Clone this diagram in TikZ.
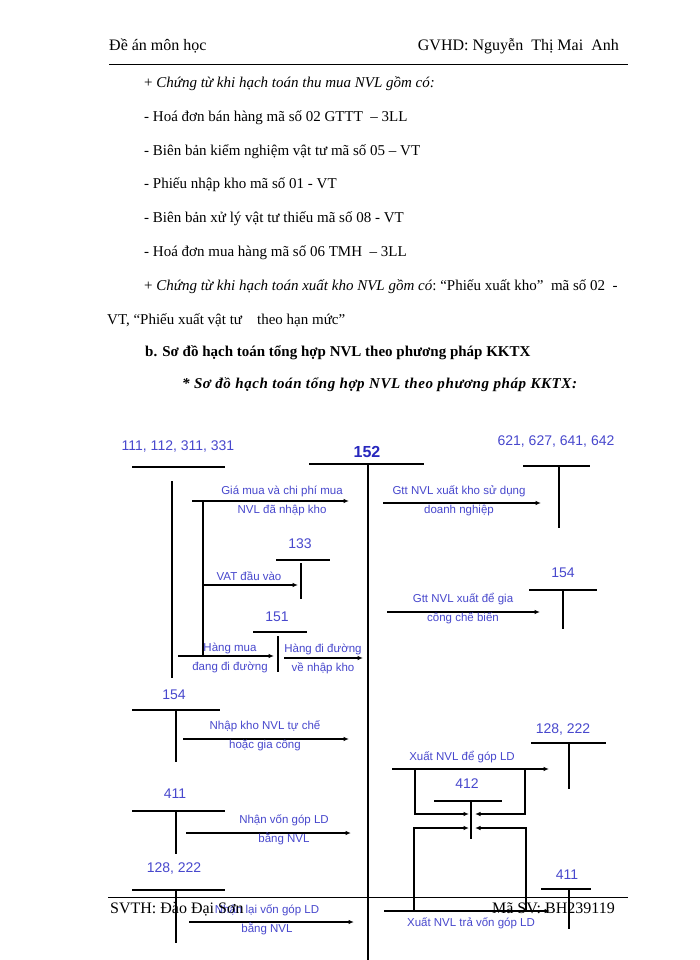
\documentclass[tikz,border=0pt]{standalone}
\usepackage{fontspec}
\setmainfont{Liberation Serif}
\newfontfamily\arialfont{Liberation Sans}
\usetikzlibrary{arrows.meta}
\definecolor{acctblue}{RGB}{72,72,205}
\definecolor{numblue}{RGB}{40,40,190}
\tikzset{%
    tbar/.style={line width=2.6pt},
    flow/.style={line width=1.5pt, -{Latex[length=5.5pt, width=4.5pt]}},
    link/.style={line width=1.5pt},
    acct/.style={text=acctblue, inner sep=0pt,
        font=\arialfont\fontsize{14}{16}\selectfont},
    lbl/.style={text=acctblue, inner sep=0pt, align=center,
        font=\arialfont\fontsize{11.5}{19}\selectfont},
    body/.style={anchor=base west, inner sep=0pt,
        font=\fontsize{15}{18}\selectfont},
    head/.style={inner sep=0pt, font=\fontsize{16}{19}\selectfont}
}
\begin{document}
\begin{tikzpicture}[x=1pt, y=-1pt]

    \useasboundingbox (0, 0) rectangle (700, 960);
    \fill[white] (0, 0) rectangle (700, 960);

    % page header
    \node[head, anchor=base west] (hleft) at (109, 51) {Đề án môn học};
    \node[head, anchor=base east] (hright) at (619, 51)
        {GVHD: Nguyễn\ \ Thị\ Mai\ \ Anh};
    \draw[line width=1.5pt] (109, 64.5) -- (628, 64.5);

    % text above the diagram
    \node[body] (t0) at (144, 87.3) {+ \textit{Chứng từ khi hạch toán thu mua NVL gồm có:}};
    \foreach \txt [count=\i] in {%
        {- Hoá đơn bán hàng mã số 02 GTTT\ \ – 3LL},
        {- Biên bản kiểm nghiệm vật tư mã số 05 – VT},
        {- Phiếu nhập\ kho mã số 01 - VT},
        {- Biên bản xử lý vật\ tư thiếu mã số 08 - VT},
        {- Hoá đơn mua hàng mã số 06 TMH\ \ – 3LL}}{%
        \node[body] (t\i) at (144, 87.3+33.9*\i) {\txt};
    };
    \node[body] (t6) at (144, 290.7) {+ \textit{Chứng từ khi hạch toán xuất kho NVL gồm có}:\
        “Phiếu xuất kho”\ \ mã số 02\ \ -};
    \node[body] (t7) at (107, 324) {VT,\ “Phiếu xuất vật\ tư\ \ \ \ theo hạn mức"};
    \node[body, font=\fontsize{15}{18}\selectfont\bfseries] (t8) at (145, 356)
        {b. Sơ đồ hạch toán tổng hợp NVL\ theo phương\ pháp\ KKTX};
    \node[body, font=\fontsize{15}{18}\selectfont\bfseries\itshape\addfontfeature{LetterSpace=4}]
        (t9) at (182, 388.3)
        {* Sơ đồ hạch toán tổng hợp NVL theo phương pháp KKTX:};

    % accounts on the left
    \node[acct] (a111) at (178, 447) {111, 112, 311, 331};
    \draw[tbar] (132, 467) -- (225, 467);
    \draw[tbar] (172, 481) -- (172, 678);

    \node[acct] (a133) at (300, 544) {133};
    \draw[tbar] (276, 560) -- (330, 560);
    \draw[tbar] (301, 563) -- (301, 599);

    \node[acct] (a151) at (277, 617) {151};
    \draw[tbar] (253, 632) -- (307, 632);
    \draw[tbar] (278, 636) -- (278, 672);

    \node[acct] (a154l) at (174, 695) {154};
    \draw[tbar] (132, 710) -- (220, 710);
    \draw[tbar] (176, 710) -- (176, 762);

    \node[acct] (a411l) at (175, 794) {411};
    \draw[tbar] (132, 811) -- (225, 811);
    \draw[tbar] (176, 811) -- (176, 854);

    \node[acct] (a128l) at (174, 868) {128, 222};
    \draw[tbar] (132, 890) -- (225, 890);
    \draw[tbar] (176, 890) -- (176, 943);

    % account 152
    \node[acct, text=numblue, font=\arialfont\bfseries\fontsize{16}{18}\selectfont]
        (a152) at (367, 452) {152};
    \draw[tbar] (309, 464) -- (424, 464);
    \draw[tbar] (368, 464) -- (368, 960);

    % accounts on the right
    \node[acct] (a621) at (556, 442) {621, 627, 641, 642};
    \draw[tbar] (523, 466) -- (590, 466);
    \draw[tbar] (559, 466) -- (559, 528);

    \node[acct] (a154r) at (563, 573) {154};
    \draw[tbar] (529, 590) -- (597, 590);
    \draw[tbar] (563, 590) -- (563, 629);

    \node[acct] (a128r) at (563, 729) {128, 222};
    \draw[tbar] (531, 743) -- (606, 743);
    \draw[tbar] (569, 743) -- (569, 789);

    \node[acct] (a412) at (467, 784) {412};
    \draw[tbar] (434, 801) -- (502, 801);
    \draw[tbar] (471, 802) -- (471, 839);

    \node[acct] (a411r) at (567, 875) {411};
    \draw[tbar] (541, 889) -- (591, 889);
    \draw[tbar] (569, 889) -- (569, 929);

    % end points of the flows
    \coordinate (buytop) at (203, 501);
    \coordinate (buybot) at (203, 656);
    \coordinate (in152a) at (349, 501);
    \coordinate (vat) at (204, 585);
    \coordinate (in133) at (298, 585);
    \coordinate (road) at (178, 656);
    \coordinate (in151) at (274, 656);
    \coordinate (out151) at (284, 658);
    \coordinate (in152b) at (363, 658);
    \coordinate (use) at (383, 503);
    \coordinate (in621) at (541, 503);
    \coordinate (proc) at (387, 612);
    \coordinate (in154r) at (540, 612);
    \coordinate (out154l) at (183, 739);
    \coordinate (in152c) at (349, 739);
    \coordinate (out411l) at (186, 833);
    \coordinate (in152d) at (351, 833);
    \coordinate (out128l) at (189, 922);
    \coordinate (in152e) at (354, 922);
    \coordinate (give) at (392, 769);
    \coordinate (in128r) at (549, 769);
    \coordinate (ret) at (384, 911);
    \coordinate (in411r) at (550, 911);

    % flows
    \draw[link] (buytop) -- (buybot);
    \draw[flow] ([xshift=-11pt] buytop) -- (in152a);
    \draw[flow] (vat) -- (in133);
    \draw[flow] (road) -- (in151);
    \draw[flow] (out151) -- (in152b);
    \draw[flow] (use) -- (in621);
    \draw[flow] (proc) -- (in154r);
    \draw[flow] (out154l) -- (in152c);
    \draw[flow] (out411l) -- (in152d);
    \draw[flow] (out128l) -- (in152e);
    \draw[flow] (give) -- (in128r);
    \draw[flow] (ret) -- (in411r);

    % the two loops round 412
    \draw[flow] (415, 769) |- (469, 814);
    \draw[flow] (525, 769) |- (475, 814);
    \draw[flow] (414, 911) |- (469, 828);
    \draw[flow] (526, 911) |- (475, 828);

    % labels of the flows
    \node[lbl] (l1) at (282, 500.5) {Giá mua và chi phí mua\\NVL đã nhập kho};
    \node[lbl] (l2) at (249, 576) {VAT đầu vào};
    \node[lbl] (l3) at (230, 657.5) {Hàng mua\\đang\ đi đường};
    \node[lbl] (l4) at (323, 658.5) {Hàng đi đường\\về nhập kho};
    \node[lbl] (l5) at (459, 501) {Gtt NVL xuất kho sử dụng\\doanh nghiệp};
    \node[lbl] (l6) at (463, 609) {Gtt NVL xuất để gia\\công chế biến};
    \node[lbl] (l7) at (265, 735.5) {Nhập kho NVL tự chế\\hoặc gia công};
    \node[lbl] (l8) at (462, 757) {Xuất\ NVL để góp LD};
    \node[lbl] (l9) at (284, 829.5) {Nhận vốn\ góp LD\\bằng NVL};
    \node[lbl] (l10) at (267, 919.5) {Nhận lại vốn\ góp LD\\bằng NVL};
    \node[lbl] (l11) at (471, 923) {Xuất\ NVL trả vốn\ góp LD};

    % page footer
    \draw[line width=0.8pt] (108, 897) -- (628, 897);
    \node[head, anchor=base west] (fleft) at (110, 913) {SVTH: Đào Đại Sơn};
    \node[head, anchor=base east] (fright) at (615, 913) {Mã SV: BH239119};

\end{tikzpicture}
\end{document}
